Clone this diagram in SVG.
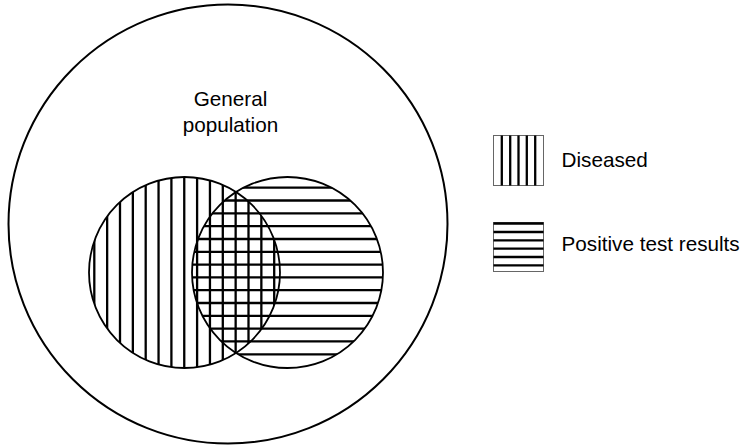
<svg xmlns="http://www.w3.org/2000/svg" width="742" height="448" viewBox="0 0 742 448">
  <style>
    .outline { fill: none; stroke: #000; }
    .hatch { stroke: #000; stroke-width: 2.3; }
    .box { fill: #fff; stroke: #666; stroke-width: 1; }
    .label { font-family: "Liberation Sans", Arial, Helvetica, sans-serif; font-size: 20.7px; fill: #000; }
  </style>
  <defs>
    <clipPath id="clipD"><circle cx="184.5" cy="272.5" r="95.5"/></clipPath>
    <clipPath id="clipP"><circle cx="287.5" cy="272.5" r="95.5"/></clipPath>
  </defs>
  <rect width="742" height="448" fill="#fff"/>

  <g id="general-population">
    <circle class="outline" cx="228" cy="224" r="219.5" stroke-width="2"/>
    <text class="label" text-anchor="middle" x="230.5" y="106">General</text>
    <text class="label" text-anchor="middle" x="230.5" y="132">population</text>
  </g>

  <g id="diseased">
    <g clip-path="url(#clipD)" class="hatch">
      <line x1="94.3" y1="170" x2="94.3" y2="375"/>
      <line x1="107.15" y1="170" x2="107.15" y2="375"/>
      <line x1="120" y1="170" x2="120" y2="375"/>
      <line x1="132.85" y1="170" x2="132.85" y2="375"/>
      <line x1="145.7" y1="170" x2="145.7" y2="375"/>
      <line x1="158.55" y1="170" x2="158.55" y2="375"/>
      <line x1="171.4" y1="170" x2="171.4" y2="375"/>
      <line x1="184.25" y1="170" x2="184.25" y2="375"/>
      <line x1="197.1" y1="170" x2="197.1" y2="375"/>
      <line x1="209.95" y1="170" x2="209.95" y2="375"/>
      <line x1="222.8" y1="170" x2="222.8" y2="375"/>
      <line x1="235.65" y1="170" x2="235.65" y2="375"/>
      <line x1="248.5" y1="170" x2="248.5" y2="375"/>
      <line x1="261.35" y1="170" x2="261.35" y2="375"/>
      <line x1="274.2" y1="170" x2="274.2" y2="375"/>
    </g>
    <circle class="outline" cx="184.5" cy="272.5" r="95.5" stroke-width="1.8"/>
  </g>

  <g id="positive-test-results">
    <g clip-path="url(#clipP)" class="hatch">
      <line x1="185" y1="187.7" x2="390" y2="187.7"/>
      <line x1="185" y1="200.5" x2="390" y2="200.5"/>
      <line x1="185" y1="213.35" x2="390" y2="213.35"/>
      <line x1="185" y1="226.15" x2="390" y2="226.15"/>
      <line x1="185" y1="239" x2="390" y2="239"/>
      <line x1="185" y1="251.8" x2="390" y2="251.8"/>
      <line x1="185" y1="264.6" x2="390" y2="264.6"/>
      <line x1="185" y1="277.4" x2="390" y2="277.4"/>
      <line x1="185" y1="290.2" x2="390" y2="290.2"/>
      <line x1="185" y1="303" x2="390" y2="303"/>
      <line x1="185" y1="315.8" x2="390" y2="315.8"/>
      <line x1="185" y1="328.6" x2="390" y2="328.6"/>
      <line x1="185" y1="341.45" x2="390" y2="341.45"/>
      <line x1="185" y1="354.3" x2="390" y2="354.3"/>
    </g>
    <circle class="outline" cx="287.5" cy="272.5" r="95.5" stroke-width="1.8"/>
  </g>

  <g id="legend-diseased">
    <rect class="box" x="493.5" y="135.5" width="50" height="50"/>
    <g class="hatch">
      <line x1="501.8" y1="135.5" x2="501.8" y2="185.5"/>
      <line x1="510.2" y1="135.5" x2="510.2" y2="185.5"/>
      <line x1="518.5" y1="135.5" x2="518.5" y2="185.5"/>
      <line x1="526.8" y1="135.5" x2="526.8" y2="185.5"/>
      <line x1="535.2" y1="135.5" x2="535.2" y2="185.5"/>
    </g>
    <text class="label" x="561.5" y="166.7">Diseased</text>
  </g>

  <g id="legend-positive">
    <rect class="box" x="493.5" y="222.5" width="50" height="49"/>
    <g class="hatch">
      <line x1="493.5" y1="223.5" x2="543.5" y2="223.5"/>
      <line x1="493.5" y1="232" x2="543.5" y2="232"/>
      <line x1="493.5" y1="240.3" x2="543.5" y2="240.3"/>
      <line x1="493.5" y1="248.7" x2="543.5" y2="248.7"/>
      <line x1="493.5" y1="257" x2="543.5" y2="257"/>
      <line x1="493.5" y1="265.3" x2="543.5" y2="265.3"/>
    </g>
    <text class="label" x="561.5" y="251">Positive test results</text>
  </g>
</svg>
